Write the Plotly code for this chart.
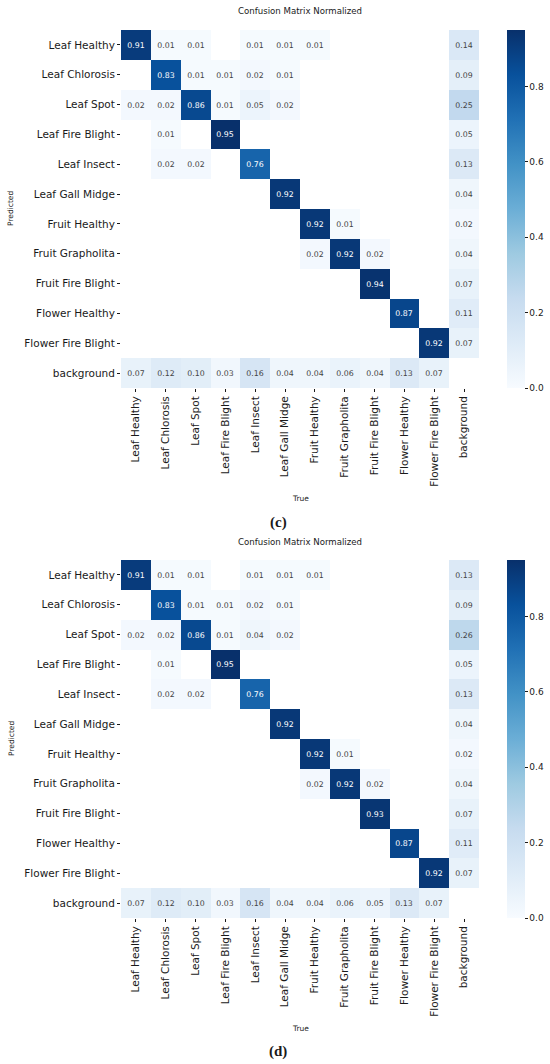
import plotly.graph_objects as go

labels = ["Leaf Healthy", "Leaf Chlorosis", "Leaf Spot", "Leaf Fire Blight",
          "Leaf Insect", "Leaf Gall Midge", "Fruit Healthy", "Fruit Grapholita",
          "Fruit Fire Blight", "Flower Healthy", "Flower Fire Blight", "background"]

N = None  # empty cell (value below 0.005)

# rows = predicted, columns = true
cm_c = [
    [0.91, 0.01, 0.01, N, 0.01, 0.01, 0.01, N, N, N, N, 0.14],
    [N, 0.83, 0.01, 0.01, 0.02, 0.01, N, N, N, N, N, 0.09],
    [0.02, 0.02, 0.86, 0.01, 0.05, 0.02, N, N, N, N, N, 0.25],
    [N, 0.01, N, 0.95, N, N, N, N, N, N, N, 0.05],
    [N, 0.02, 0.02, N, 0.76, N, N, N, N, N, N, 0.13],
    [N, N, N, N, N, 0.92, N, N, N, N, N, 0.04],
    [N, N, N, N, N, N, 0.92, 0.01, N, N, N, 0.02],
    [N, N, N, N, N, N, 0.02, 0.92, 0.02, N, N, 0.04],
    [N, N, N, N, N, N, N, N, 0.94, N, N, 0.07],
    [N, N, N, N, N, N, N, N, N, 0.87, N, 0.11],
    [N, N, N, N, N, N, N, N, N, N, 0.92, 0.07],
    [0.07, 0.12, 0.10, 0.03, 0.16, 0.04, 0.04, 0.06, 0.04, 0.13, 0.07, N],
]

cm_d = [
    [0.91, 0.01, 0.01, N, 0.01, 0.01, 0.01, N, N, N, N, 0.13],
    [N, 0.83, 0.01, 0.01, 0.02, 0.01, N, N, N, N, N, 0.09],
    [0.02, 0.02, 0.86, 0.01, 0.04, 0.02, N, N, N, N, N, 0.26],
    [N, 0.01, N, 0.95, N, N, N, N, N, N, N, 0.05],
    [N, 0.02, 0.02, N, 0.76, N, N, N, N, N, N, 0.13],
    [N, N, N, N, N, 0.92, N, N, N, N, N, 0.04],
    [N, N, N, N, N, N, 0.92, 0.01, N, N, N, 0.02],
    [N, N, N, N, N, N, 0.02, 0.92, 0.02, N, N, 0.04],
    [N, N, N, N, N, N, N, N, 0.93, N, N, 0.07],
    [N, N, N, N, N, N, N, N, N, 0.87, N, 0.11],
    [N, N, N, N, N, N, N, N, N, N, 0.92, 0.07],
    [0.07, 0.12, 0.10, 0.03, 0.16, 0.04, 0.04, 0.06, 0.05, 0.13, 0.07, N],
]

cbar_ticks = [0.0, 0.2, 0.4, 0.6, 0.8]

# matplotlib "Blues"
blues = [[0.0, "#f7fbff"], [0.125, "#deebf7"], [0.25, "#c6dbef"],
         [0.375, "#9ecae1"], [0.5, "#6baed6"], [0.625, "#4292c6"],
         [0.75, "#2171b5"], [0.875, "#08519c"], [1.0, "#08306b"]]

W, H = 550, 1064
FONT = "DejaVu Sans"
DARK = "#1a1a1a"


def px(x):
    return x / W


def py(y):
    return 1 - y / H


def cell_text(m):
    return [["" if v is None else f"{v:.2f}" for v in row] for row in m]


def zmax_of(m):
    return max(v for row in m for v in row if v is not None)


def make_trace(m, xa, ya, cb_mid):
    return go.Heatmap(
        z=m, x=labels, y=labels, xaxis=xa, yaxis=ya,
        text=cell_text(m), texttemplate="%{text}",
        textfont=dict(family=FONT, size=7.8),
        colorscale=blues, zmin=0, zmax=zmax_of(m),
        hoverongaps=False,
        colorbar=dict(
            x=px(507), xanchor="left", y=py(cb_mid), yanchor="middle",
            lenmode="pixels", len=358, thickness=18, xpad=0, ypad=0,
            outlinewidth=0, tickvals=cbar_ticks, ticktext=[f"{t:.1f}" for t in cbar_ticks],
            ticks="outside", ticklen=3, tickcolor=DARK,
            tickfont=dict(family=FONT, size=9, color=DARK),
        ),
    )


fig = go.Figure()
fig.add_trace(make_trace(cm_c, "x", "y", 209))
fig.add_trace(make_trace(cm_d, "x2", "y2", 739))

xax = dict(domain=[px(121), px(479)], tickangle=-90, ticks="outside", ticklen=3,
           tickcolor=DARK, tickfont=dict(family=FONT, size=10.5, color=DARK),
           showgrid=False, zeroline=False, showline=False)
yax = dict(autorange="reversed", ticks="outside", ticklen=3, tickcolor=DARK,
           tickfont=dict(family=FONT, size=10.5, color=DARK),
           showgrid=False, zeroline=False, showline=False)

fig.update_layout(
    width=W, height=H,
    margin=dict(l=0, r=0, t=0, b=0, autoexpand=False),
    paper_bgcolor="white", plot_bgcolor="white",
    xaxis=dict(xax, anchor="y"),
    yaxis=dict(yax, anchor="x", domain=[py(388), py(30)]),
    xaxis2=dict(xax, anchor="y2"),
    yaxis2=dict(yax, anchor="x2", domain=[py(918), py(560)]),
)

notes = [
    ("Confusion Matrix Normalized", 300, 11, 8.6, FONT, 0),
    ("Predicted", 11, 209, 7.5, FONT, -90),
    ("True", 300, 498, 7.5, FONT, 0),
    ("<b>(c)</b>", 278, 522, 15, "Liberation Serif", 0),
    ("Confusion Matrix Normalized", 300, 542, 8.6, FONT, 0),
    ("Predicted", 11, 739, 7.5, FONT, -90),
    ("True", 300, 1028, 7.5, FONT, 0),
    ("<b>(d)</b>", 278, 1051, 15, "Liberation Serif", 0),
]
for txt, x, y, size, fam, ang in notes:
    fig.add_annotation(text=txt, x=px(x), y=py(y), xref="paper", yref="paper",
                       showarrow=False, textangle=ang, xanchor="center", yanchor="middle",
                       font=dict(family=fam, size=size, color=DARK))

# drop the default 8px page margin so the figure sits at the window corner
fig.write_html("out.html", config={"displayModeBar": False},
               post_script="document.body.style.margin='0';")
